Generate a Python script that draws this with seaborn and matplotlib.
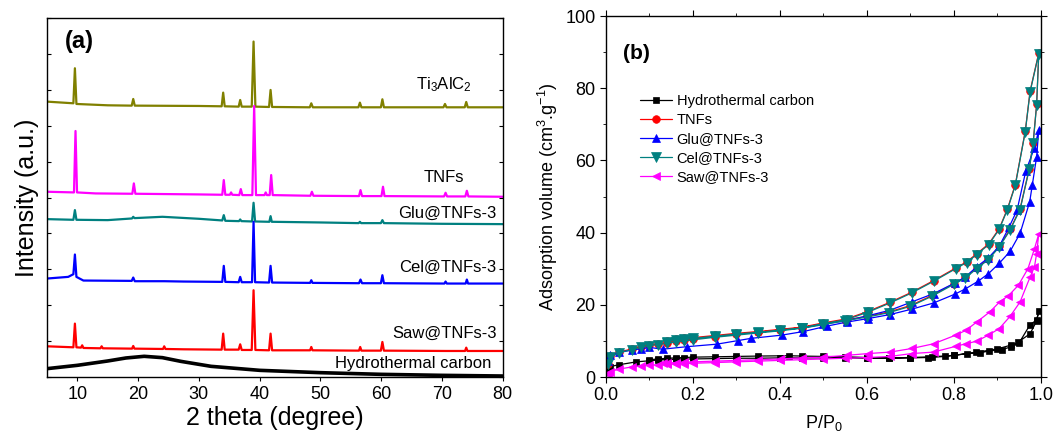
import numpy as np
import matplotlib
matplotlib.use("Agg")
import matplotlib.pyplot as plt
import seaborn as sns

# ---- (a) XRD patterns, key points (intensity in a.u.) ----
ti3alc2_x = [5, 9.35, 9.6, 9.85, 15, 18.95, 19.2, 19.45, 30, 33.75, 34.0, 34.25, 36.55, 36.8, 37.05,
             38.7, 39.0, 39.3, 41.55, 41.8, 42.05, 48.25, 48.5, 48.75, 56.25, 56.5, 56.75, 59.95, 60.2,
             60.45, 70.25, 70.5, 70.75, 73.75, 74.0, 74.25, 80]
ti3alc2_y = [825, 820, 925, 818, 814, 813, 833, 813, 812, 811, 852, 811, 810, 830, 810,
             810, 1005, 810, 809, 860, 809, 808, 820, 808, 808, 822, 808, 808, 832,
             808, 808, 818, 808, 808, 824, 808, 808]

tnfs_x = [5, 9.45, 9.7, 9.95, 13, 19.05, 19.3, 19.55, 30, 33.85, 34.1, 34.35, 35.1, 35.3, 35.5,
          36.65, 36.9, 37.15, 38.8, 39.1, 39.4, 40.8, 41.0, 41.2, 41.65, 41.9, 42.15, 48.35, 48.6,
          48.85, 56.35, 56.6, 56.85, 60.05, 60.3, 60.55, 70.35, 70.6, 70.85, 73.85, 74.1, 74.35, 80]
tnfs_y = [555, 553, 737, 553, 550, 549, 580, 549, 547, 546, 590, 546, 546, 553, 546,
          545, 563, 545, 545, 812, 545, 545, 553, 545, 545, 605, 545, 543, 555,
          543, 542, 560, 542, 542, 570, 542, 541, 552, 541, 541, 558, 541, 540]

glu_x = [5, 9.35, 9.6, 9.85, 15, 19.0, 19.2, 19.4, 24, 30, 33.85, 34.1, 34.35, 36.6, 36.8, 37.0,
         38.75, 39.0, 39.25, 41.6, 41.8, 42.0, 50, 56.3, 56.5, 56.7, 59.95, 60.2, 60.45, 70, 80]
glu_y = [473, 471, 500, 471, 470, 475, 480, 476, 480, 474, 469, 485, 468, 467, 472, 467,
         466, 522, 466, 465, 482, 465, 463, 461, 465, 461, 461, 470, 461, 459, 458]

cel_x = [5, 8.5, 9.35, 9.6, 9.85, 11, 18.95, 19.2, 19.45, 24.3, 27.5, 33.85, 34.1, 34.35, 36.55,
         36.8, 37.05, 38.75, 39.0, 39.25, 41.55, 41.8, 42.05, 48.3, 48.5, 48.7, 56.35, 56.6, 56.85,
         59.95, 60.2, 60.45, 70.4, 70.6, 70.8, 73.9, 74.1, 74.3, 80]
cel_y = [295, 300, 308, 367, 300, 289, 288, 298, 287, 287, 286, 285, 333, 285, 284,
         300, 284, 284, 465, 284, 283, 333, 283, 282, 290, 282, 281, 292, 281,
         281, 305, 281, 280, 286, 280, 280, 292, 280, 280]

saw_x = [5, 9.35, 9.6, 9.85, 10.6, 10.8, 11.0, 13.8, 14.0, 14.2, 19.0, 19.2, 19.4, 24.1, 24.3, 24.5,
         27.5, 33.75, 34.0, 34.25, 36.55, 36.8, 37.05, 38.7, 39.0, 39.3, 41.55, 41.8, 42.05, 48.3,
         48.5, 48.7, 56.35, 56.55, 56.75, 59.95, 60.2, 60.45, 70.6, 73.8, 74.0, 74.2, 80]
saw_y = [92, 89, 160, 89, 88, 95, 87, 86, 92, 86, 85, 93, 85, 84, 92, 84,
         83, 82, 130, 82, 82, 98, 81, 81, 260, 81, 80, 130, 80, 80,
         90, 80, 79, 90, 79, 79, 105, 79, 78, 78, 88, 78, 78]

carbon_x = [5, 10, 15, 18, 21, 24, 27, 32, 40, 50, 60, 70, 80]
carbon_y = [25, 35, 48, 57, 62, 58, 47, 32, 20, 13, 8, 5, 3]

# ---- (b) N2 isotherms (adsorption then desorption branch) ----
hc_p = [0.005, 0.01, 0.03, 0.07, 0.10, 0.12, 0.14, 0.16, 0.18, 0.20, 0.25, 0.30, 0.35, 0.40, 0.45,
        0.50, 0.55, 0.60, 0.65, 0.70, 0.74, 0.78, 0.80, 0.83, 0.86, 0.88, 0.91, 0.93, 0.948, 0.975,
        0.99, 0.995,
        0.99, 0.975, 0.95, 0.93, 0.90, 0.85, 0.80, 0.75, 0.70, 0.65, 0.60, 0.55, 0.50, 0.45, 0.42,
        0.35, 0.30, 0.25, 0.20, 0.18, 0.16, 0.14, 0.12, 0.10]
hc_v = [1.5, 2.9, 3.4, 4.2, 4.5, 4.7, 4.8, 4.9, 5.0, 5.0, 5.1, 5.2, 5.2, 5.3, 5.3,
        5.3, 5.3, 5.2, 5.2, 5.3, 5.4, 5.7, 6.0, 6.5, 6.7, 7.2, 7.6, 8.3, 9.7, 12.0,
        15.5, 18.3,
        15.8, 14.5, 9.5, 8.8, 7.8, 6.8, 6.0, 5.6, 5.4, 5.3, 5.4, 5.6, 5.7, 5.8, 5.9,
        5.8, 5.7, 5.6, 5.5, 5.4, 5.3, 5.2, 5.0, 4.8]

cel_p = [0.005, 0.01, 0.03, 0.06, 0.08, 0.10, 0.12, 0.14, 0.16, 0.18, 0.20, 0.25, 0.30, 0.35, 0.40,
         0.45, 0.50, 0.55, 0.60, 0.65, 0.70, 0.75, 0.80, 0.826, 0.852, 0.879, 0.904, 0.929, 0.952,
         0.973, 0.982, 0.99, 0.995,
         0.975, 0.964, 0.941, 0.923, 0.904, 0.880, 0.852, 0.829, 0.804, 0.753, 0.703, 0.653, 0.603,
         0.553, 0.50, 0.45, 0.40, 0.35, 0.30, 0.25, 0.20, 0.18, 0.16, 0.14]
cel_v = [3.5, 5.5, 6.7, 7.6, 8.2, 8.7, 9.0, 9.3, 9.7, 10.0, 10.3, 11.0, 11.6, 12.2, 12.8,
         13.5, 14.5, 15.6, 16.6, 17.8, 19.6, 22.4, 25.7, 27.4, 30.0, 32.5, 36.0, 40.7, 46.4,
         57.5, 64.7, 75.3, 89.6,
         79.0, 68.0, 53.1, 46.4, 40.9, 36.7, 33.9, 31.7, 30.0, 26.5, 23.3, 20.5, 18.0,
         15.9, 14.8, 13.6, 13.0, 12.4, 11.9, 11.3, 10.7, 10.5, 10.2, 9.8]

tnf_p = cel_p
tnf_v = [3.7, 5.7, 6.9, 7.8, 8.4, 8.9, 9.2, 9.5, 9.9, 10.2, 10.5, 11.2, 11.8, 12.4, 13.0,
         13.7, 14.7, 15.8, 16.8, 18.0, 19.8, 22.6, 25.9, 27.6, 30.2, 32.7, 36.2, 40.9, 46.6,
         57.7, 64.9, 75.5, 89.8,
         79.2, 68.2, 53.3, 46.6, 41.1, 36.9, 34.1, 31.9, 30.2, 26.7, 23.5, 20.7, 18.2,
         16.1, 15.0, 13.8, 13.2, 12.6, 12.1, 11.5, 10.9, 10.7, 10.4, 10.0]

glu_p = [0.005, 0.01, 0.03, 0.06, 0.08, 0.10, 0.13, 0.186, 0.255, 0.304, 0.333, 0.404, 0.454,
         0.508, 0.553, 0.603, 0.653, 0.703, 0.753, 0.803, 0.826, 0.855, 0.879, 0.904, 0.929, 0.952,
         0.974, 0.98, 0.99, 0.995,
         0.985, 0.965, 0.945, 0.927, 0.904, 0.879, 0.852, 0.826, 0.803, 0.753, 0.703, 0.653, 0.603,
         0.553, 0.50, 0.45]
glu_v = [4.5, 6.0, 6.8, 7.5, 7.8, 8.2, 7.7, 8.4, 9.1, 10.1, 10.7, 11.6, 12.6,
         14.1, 15.2, 16.2, 17.3, 18.8, 20.5, 23.0, 24.4, 26.5, 28.6, 31.5, 34.8, 39.8,
         48.5, 53.1, 61.0, 68.5,
         63.5, 57.0, 46.2, 41.6, 36.2, 33.0, 30.5, 27.7, 26.1, 23.1, 20.8, 18.5, 17.0,
         15.6, 14.7, 13.5]

saw_p = [0.005, 0.01, 0.03, 0.06, 0.08, 0.10, 0.12, 0.14, 0.16, 0.18, 0.20, 0.25, 0.30, 0.35, 0.40,
         0.45, 0.50, 0.55, 0.60, 0.653, 0.703, 0.753, 0.804, 0.827, 0.852, 0.879, 0.904, 0.929,
         0.952, 0.975, 0.985, 0.99, 0.995,
         0.985, 0.97, 0.948, 0.925, 0.905, 0.882, 0.852, 0.827, 0.804, 0.753, 0.703, 0.653, 0.603,
         0.553, 0.50, 0.45, 0.40, 0.35, 0.30, 0.25, 0.20, 0.18, 0.16, 0.14, 0.13]
saw_v = [0.8, 1.5, 2.2, 2.8, 3.1, 3.3, 3.4, 3.5, 3.6, 3.7, 3.8, 4.0, 4.2, 4.4, 4.6,
         4.8, 5.0, 5.2, 5.4, 5.7, 6.5, 6.9, 8.5, 9.2, 9.9, 11.6, 13.4, 16.8,
         20.8, 27.7, 30.5, 34.2, 39.7,
         35.5, 30.0, 25.4, 22.5, 20.8, 18.0, 15.2, 12.9, 11.6, 9.2, 7.9, 6.9, 6.5,
         6.0, 5.5, 5.3, 5.0, 4.8, 4.6, 4.4, 4.2, 4.1, 4.0, 3.9, 3.8]

sns.set_style("ticks")
plt.rcParams['font.family'] = ['Liberation Sans', 'DejaVu Sans']
plt.rcParams['mathtext.fontset'] = 'custom'
plt.rcParams['mathtext.rm'] = 'Liberation Sans'
plt.rcParams['mathtext.it'] = 'Liberation Sans:italic'
plt.rcParams['mathtext.bf'] = 'Liberation Sans:bold'
for k in ['axes.edgecolor', 'xtick.color', 'ytick.color', 'text.color', 'axes.labelcolor']:
    plt.rcParams[k] = 'black'

fig = plt.figure(figsize=(10.55, 4.36), dpi=100)
ax1 = fig.add_axes([0.0445, 0.1353, 0.432, 0.823])
ax2 = fig.add_axes([0.5744, 0.1353, 0.4123, 0.828])

# ---------- panel (a) ----------
xrd = [
    (ti3alc2_x, ti3alc2_y, '#808000', 1.6),
    (tnfs_x, tnfs_y, '#ff00ff', 1.6),
    (glu_x, glu_y, '#008080', 1.6),
    (cel_x, cel_y, '#0000ff', 1.6),
    (saw_x, saw_y, '#ff0000', 1.6),
    (carbon_x, carbon_y, '#000000', 2.6),
]
for xs, ys, c, lw in xrd:
    sns.lineplot(x=xs, y=ys, ax=ax1, color=c, lw=lw, sort=False, estimator=None)

labels_a = [
    ('Ti$_3$AlC$_2$', 75.0, 875),
    ('TNFs', 73.7, 599),
    ('Glu@TNFs-3', 79.0, 491),
    ('Cel@TNFs-3', 79.0, 329),
    ('Saw@TNFs-3', 79.0, 132),
    ('Hydrothermal carbon', 78.2, 39),
]
for txt, tx, ty in labels_a:
    ax1.text(tx, ty, txt, ha='right', va='center', fontsize=12)

ax1.text(0.04, 0.935, '(a)', transform=ax1.transAxes, fontsize=17, fontweight='bold',
         ha='left', va='center')
ax1.set_xlim(5, 80)
ax1.set_ylim(0, 1075)
ax1.set_xticks(range(10, 81, 10))
ax1.set_yticks(np.arange(0, 1076, 107.5))
ax1.tick_params(axis='x', labelsize=13, direction='out', length=3)
ax1.tick_params(axis='y', labelleft=False, direction='in', length=3, left=True, right=True)
ax1.set_xlabel('2 theta (degree)', fontsize=18, labelpad=2)
ax1.set_ylabel('Intensity (a.u.)', fontsize=18, labelpad=6)
for s in ax1.spines.values():
    s.set_linewidth(1.0)

# ---------- panel (b) ----------
iso = [
    (hc_p, hc_v, '#000000', 's', 5, 'Hydrothermal carbon'),
    (tnf_p, tnf_v, '#ff0000', 'o', 5.5, 'TNFs'),
    (glu_p, glu_v, '#0000ff', '^', 6, 'Glu@TNFs-3'),
    (cel_p, cel_v, '#008080', 'v', 6.5, 'Cel@TNFs-3'),
    (saw_p, saw_v, '#ff00ff', '<', 6, 'Saw@TNFs-3'),
]
for ps, vs, c, m, ms, lab in iso:
    sns.lineplot(x=ps, y=vs, ax=ax2, color=c, lw=0.9, marker=m, markersize=ms,
                 markeredgecolor=c, markeredgewidth=0.5, sort=False, estimator=None, label=lab)

ax2.set_xlim(0, 1.0)
ax2.set_ylim(0, 100)
ax2.set_xticks(np.arange(0, 1.01, 0.2))
ax2.set_yticks(range(0, 101, 20))
ax2.set_xticks(np.arange(0, 1.01, 0.1), minor=True)
ax2.set_yticks(range(0, 101, 10), minor=True)
ax2.tick_params(axis='both', which='major', labelsize=13, direction='out', length=4)
ax2.tick_params(axis='both', which='minor', direction='out', length=2)
ax2.tick_params(top=True, right=True, which='both')
ax2.xaxis.set_major_formatter(matplotlib.ticker.FormatStrFormatter('%.1f'))
ax2.set_xlabel('P/P$_0$', fontsize=13, labelpad=6)
ax2.set_ylabel('Adsorption volume (cm$^3$.g$^{-1}$)', fontsize=13, labelpad=4)
ax2.text(0.04, 0.895, '(b)', transform=ax2.transAxes, fontsize=15, fontweight='bold',
         ha='left', va='center')
leg = ax2.legend(loc='upper left', bbox_to_anchor=(0.065, 0.80), frameon=False, fontsize=10.5,
                 handlelength=2.2, labelspacing=0.35, handletextpad=0.3, borderaxespad=0)
for s in ax2.spines.values():
    s.set_linewidth(1.0)

fig.savefig('out.png', dpi=100)
